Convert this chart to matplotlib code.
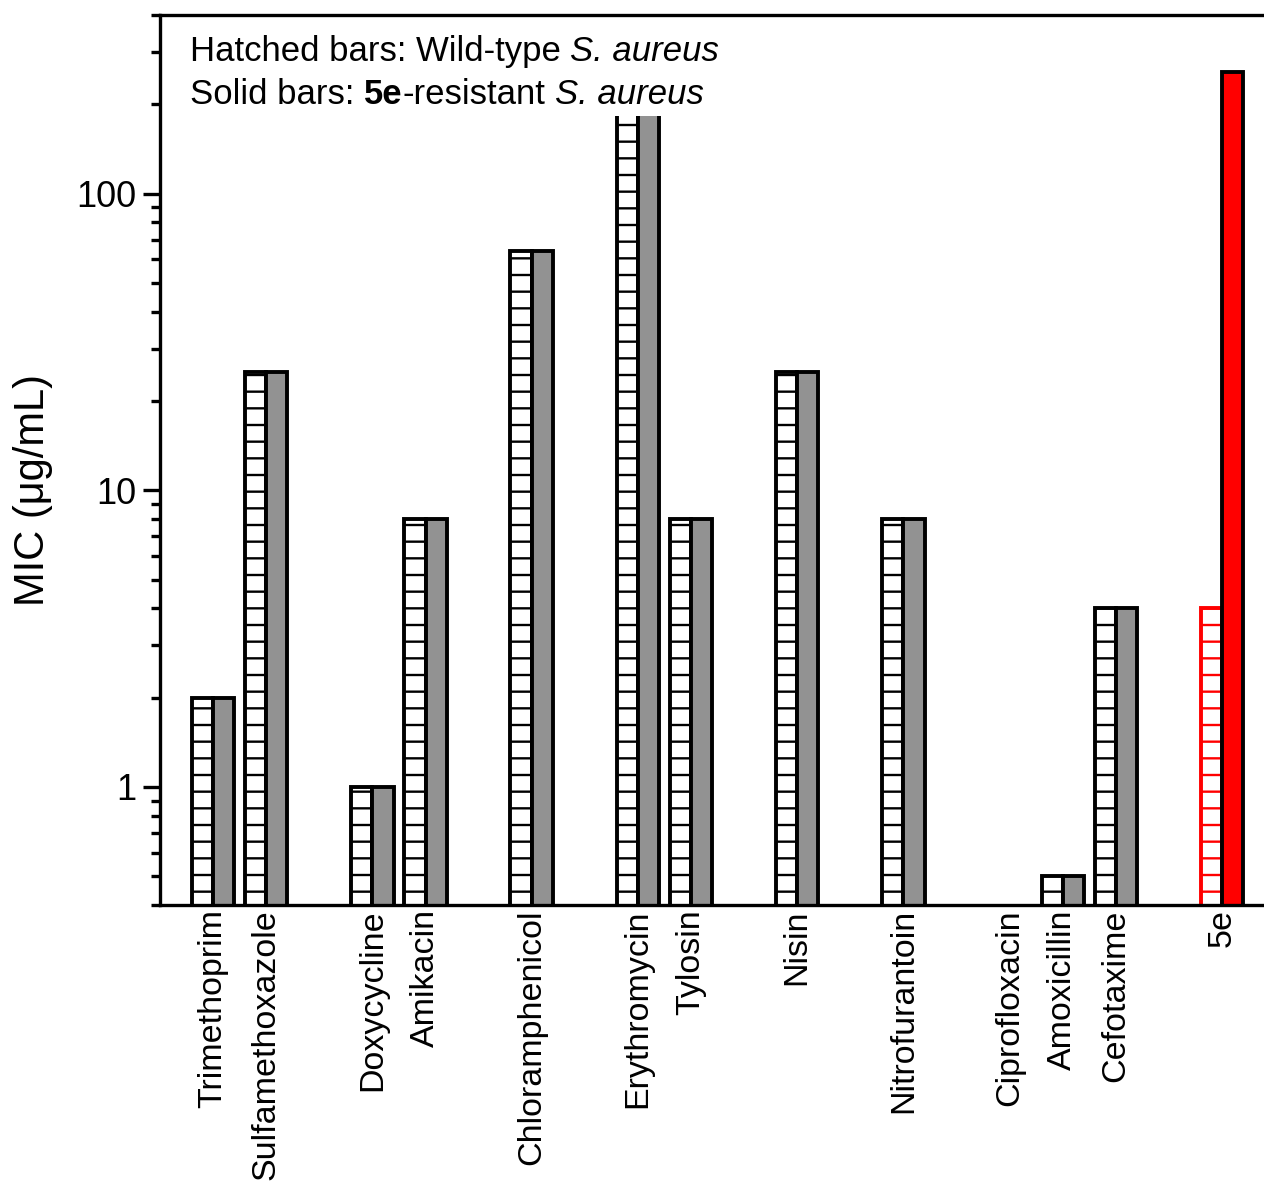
import matplotlib
matplotlib.use("Agg")
import matplotlib.pyplot as plt
import numpy as np
from matplotlib.patches import Rectangle
from matplotlib.offsetbox import TextArea, HPacker, VPacker, AnchoredOffsetbox

plt.rcParams['font.family'] = ['Liberation Sans', 'DejaVu Sans']
plt.rcParams['hatch.linewidth'] = 1.7

categories = ["Trimethoprim", "Sulfamethoxazole", "Doxycycline", "Amikacin",
              "Chloramphenicol", "Erythromycin", "Tylosin", "Nisin",
              "Nitrofurantoin", "Ciprofloxacin", "Amoxicillin", "Cefotaxime", "5e"]
slots = [0, 1, 3, 4, 6, 8, 9, 11, 13, 15, 16, 17, 19]
wild_type = [2, 25, 1, 8, 64, 256, 8, 25, 8, 0.1, 0.5, 4, 4]
resistant = [2, 25, 1, 8, 64, 256, 8, 25, 8, 0.1, 0.5, 4, 256]

fig = plt.figure(figsize=(12.64, 11.86), dpi=100)
ax = fig.add_axes([160/1264, 1-905/1186, 1-160/1264, (905-15)/1186])

w = 0.4
x = np.array(slots, dtype=float)
base = 0.01
for i, c in enumerate(categories):
    is5e = (c == "5e")
    ec = 'red' if is5e else 'black'
    fc2 = 'red' if is5e else '#929292'
    ax.bar(x[i] - w/2, wild_type[i] - base, bottom=base, width=w,
           facecolor='white', edgecolor=ec, hatch='-', linewidth=2.8, zorder=1.5)
    ax.bar(x[i] + w/2, resistant[i] - base, bottom=base, width=w,
           facecolor=fc2, edgecolor='black', linewidth=2.8, zorder=1.5)

ax.set_yscale('log')
ax.set_ylim(0.4, 400)
ax.set_xlim(-1, 19.79)
ax.set_yticks([1, 10, 100])
ax.set_yticklabels(['1', '10', '100'])
ax.set_xticks(x)
ax.set_xticklabels(categories, rotation=90, fontsize=24.5)
ax.tick_params(axis='x', length=0, pad=3)
ax.tick_params(axis='y', which='major', length=12, width=2.4, labelsize=26, pad=5)
ax.tick_params(axis='y', which='minor', length=6.5, width=2.4)
ax.set_ylabel('MIC (μg/mL)', fontsize=30)
ax.yaxis.set_label_coords(-0.097, 0.466)

for s in ['left', 'bottom', 'top']:
    ax.spines[s].set_linewidth(2.4)
ax.spines['right'].set_visible(False)

# white panel behind the note text
ax.add_patch(Rectangle((0.003, 0.886), 0.5, 0.11, transform=ax.transAxes,
                       facecolor='white', edgecolor='none', zorder=1.8))

fs = 25
line1 = HPacker(children=[TextArea("Hatched bars: Wild-type", textprops=dict(size=fs)),
                          TextArea("S. aureus", textprops=dict(size=fs, style='italic'))],
                align='baseline', pad=0, sep=7)
line2 = HPacker(children=[TextArea("Solid bars:", textprops=dict(size=fs)),
                          HPacker(children=[TextArea("5e", textprops=dict(size=fs, weight='bold')),
                                            TextArea("-resistant", textprops=dict(size=fs))],
                                  align='baseline', pad=0, sep=0),
                          TextArea("S. aureus", textprops=dict(size=fs, style='italic'))],
                align='baseline', pad=0, sep=7)
note = VPacker(children=[line1, line2], align='left', pad=0, sep=7)
anch = AnchoredOffsetbox(loc='upper left', child=note, pad=0, borderpad=0,
                         bbox_to_anchor=(0.027, 0.977), bbox_transform=ax.transAxes,
                         frameon=False)
anch.set_zorder(4)
ax.add_artist(anch)

fig.savefig('out.png', dpi=100)
